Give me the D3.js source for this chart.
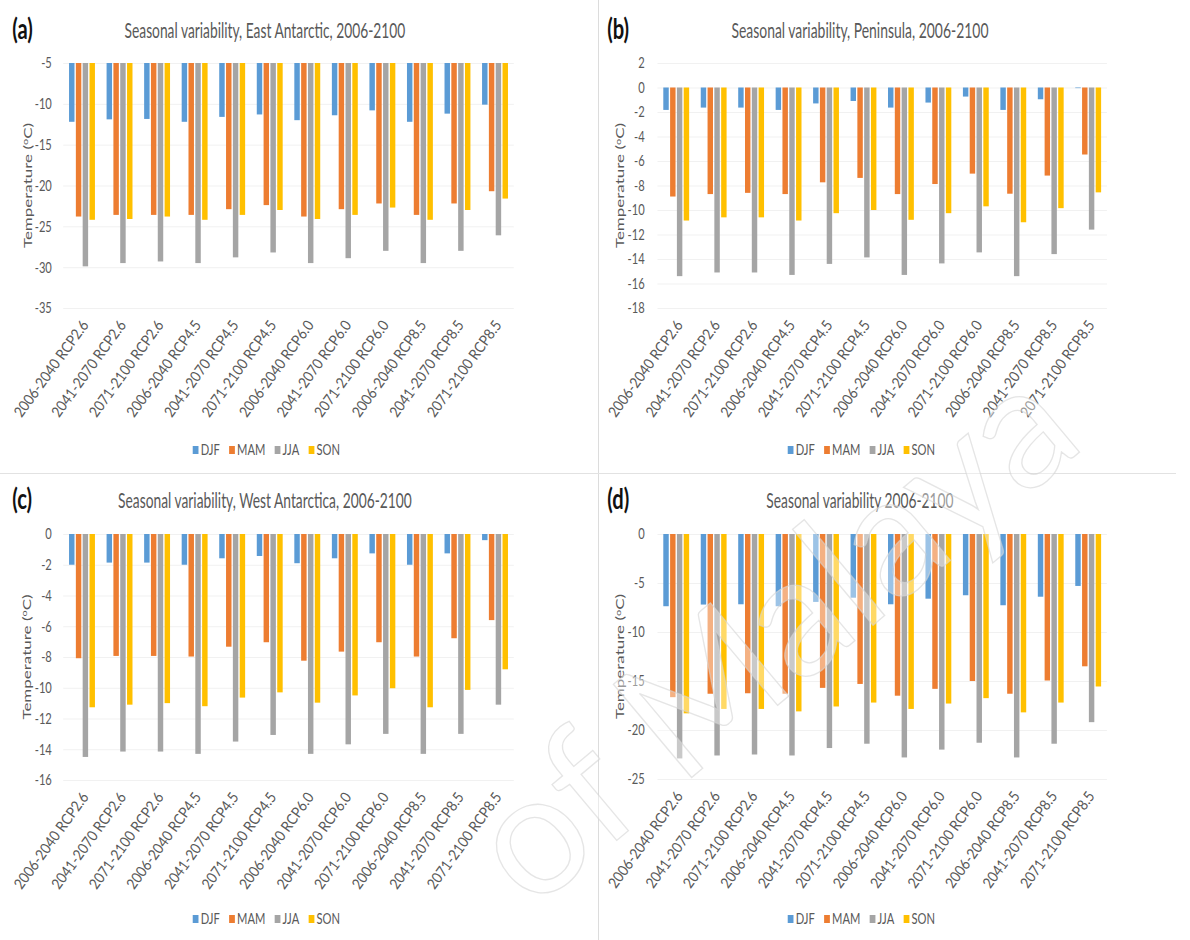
<!DOCTYPE html>
<html>
<head>
<meta charset="utf-8">
<script src="https://cdn.jsdelivr.net/npm/d3@7"></script>
<style>
  body { margin: 0; background: #fff; }
  svg { display: block; }
  text { font-family: Lato, "Open Sans", "DejaVu Sans", sans-serif; }
</style>
</head>
<body>
<svg id="fig" width="1190" height="940"></svg>
<script>
// ---- categories, series and tick labels ----
const categories = [
  "2006-2040 RCP2.6", "2041-2070 RCP2.6", "2071-2100 RCP2.6",
  "2006-2040 RCP4.5", "2041-2070 RCP4.5", "2071-2100 RCP4.5",
  "2006-2040 RCP6.0", "2041-2070 RCP6.0", "2071-2100 RCP6.0",
  "2006-2040 RCP8.5", "2041-2070 RCP8.5", "2071-2100 RCP8.5"
];
const seasons = ["DJF", "MAM", "JJA", "SON"];
const seasonColors = ["#5B9BD5", "#ED7D31", "#A5A5A5", "#FFC000"];

// (a) East Antarctic
const eastDJF = [-12.2, -11.9, -11.85, -12.2, -11.6, -11.3, -12.0, -11.4, -10.8, -12.2, -11.2, -10.1];
const eastMAM = [-23.8, -23.6, -23.6, -23.6, -22.9, -22.4, -23.8, -22.9, -22.2, -23.6, -22.2, -20.7];
const eastJJA = [-29.9, -29.5, -29.3, -29.5, -28.8, -28.2, -29.5, -28.9, -28.0, -29.5, -28.0, -26.1];
const eastSON = [-24.2, -24.1, -23.8, -24.2, -23.6, -23.0, -24.1, -23.6, -22.7, -24.2, -23.0, -21.6];
const eastTicks = [-5, -10, -15, -20, -25, -30, -35];

// (b) Peninsula
const penDJF = [-1.83, -1.64, -1.64, -1.83, -1.3, -1.1, -1.64, -1.23, -0.74, -1.83, -0.96, -0.05];
const penMAM = [-8.9, -8.7, -8.6, -8.7, -7.74, -7.38, -8.7, -7.88, -7.03, -8.67, -7.19, -5.47];
const penJJA = [-15.4, -15.1, -15.1, -15.3, -14.4, -13.87, -15.3, -14.36, -13.46, -15.4, -13.6, -11.6];
const penSON = [-10.86, -10.6, -10.6, -10.86, -10.26, -10.0, -10.8, -10.26, -9.7, -11.0, -9.85, -8.56];
const penTicks = [2, 0, -2, -4, -6, -8, -10, -12, -14, -16, -18];

// (c) West Antarctica
const westDJF = [-2.0, -1.86, -1.86, -2.0, -1.58, -1.43, -1.9, -1.58, -1.26, -2.0, -1.26, -0.4];
const westMAM = [-8.08, -7.93, -7.93, -7.97, -7.33, -7.04, -8.24, -7.65, -7.04, -7.97, -6.78, -5.6];
const westJJA = [-14.5, -14.15, -14.15, -14.3, -13.5, -13.07, -14.3, -13.68, -13.0, -14.3, -13.0, -11.1];
const westSON = [-11.27, -11.1, -11.0, -11.2, -10.64, -10.3, -10.97, -10.5, -10.03, -11.27, -10.14, -8.8];
const westTicks = [0, -2, -4, -6, -8, -10, -12, -14, -16];

// (d) whole continent
const allDJF = [-7.37, -7.2, -7.17, -7.37, -6.93, -6.5, -7.17, -6.6, -6.25, -7.27, -6.4, -5.3];
const allMAM = [-16.65, -16.3, -16.25, -16.3, -15.7, -15.3, -16.5, -15.8, -15.0, -16.3, -14.95, -13.5];
const allJJA = [-22.9, -22.6, -22.5, -22.6, -21.84, -21.4, -22.8, -22.0, -21.3, -22.8, -21.4, -19.2];
const allSON = [-18.3, -17.85, -17.85, -18.1, -17.6, -17.2, -17.85, -17.3, -16.75, -18.2, -17.2, -15.56];
const allTicks = [0, -5, -10, -15, -20, -25];

// ---- layout ----
const SX = 0.72;            // horizontal compression of each chart panel
const TEXT = "#595959";
const FONT = "Lato, 'Open Sans', sans-serif";

const panels = [
  { tag: "(a)", title: "Seasonal variability, East Antarctic, 2006-2100", titleW: 390,
    ox: 0, oy: 0, xr: [87.8, 713.6], yr: [308, 63], tickX: 72, atx: 39,
    series: [eastDJF, eastMAM, eastJJA, eastSON], ticks: eastTicks, legendY: 450 },
  { tag: "(b)", title: "Seasonal variability, Peninsula, 2006-2100", titleW: 357,
    ox: 595, oy: 0, xr: [86.8, 711], yr: [308, 63], tickX: 69, atx: 35,
    series: [penDJF, penMAM, penJJA, penSON], ticks: penTicks, legendY: 450 },
  { tag: "(c)", title: "Seasonal variability, West Antarctica, 2006-2100", titleW: 408,
    ox: 0, oy: 470, xr: [87.8, 713.6], yr: [310, 64], tickX: 72, atx: 37.5,
    series: [westDJF, westMAM, westJJA, westSON], ticks: westTicks, legendY: 449 },
  { tag: "(d)", title: "Seasonal variability 2006-2100", titleW: 260,
    ox: 595, oy: 470, xr: [86.8, 711], yr: [309, 64], tickX: 69, atx: 35,
    series: [allDJF, allMAM, allJJA, allSON], ticks: allTicks, legendY: 449 }
];

const svg = d3.select("#fig");
const color = d3.scaleOrdinal().domain(seasons).range(seasonColors);

// panel separators
svg.append("line").attr("x1", 598.5).attr("x2", 598.5).attr("y1", 0).attr("y2", 940)
  .attr("stroke", "#dcdcdc").attr("stroke-width", 1);
svg.append("line").attr("x1", 0).attr("x2", 1176).attr("y1", 473.5).attr("y2", 473.5)
  .attr("stroke", "#e2e2e2").attr("stroke-width", 1);

panels.forEach(p => {
  const g = svg.append("g")
    .attr("transform", `translate(${p.ox},${p.oy}) scale(${SX},1)`);

  const x0 = d3.scaleBand().domain(categories).range(p.xr)
    .paddingInner(0.31).paddingOuter(0.155);
  const x1 = d3.scaleBand().domain(seasons).range([0, x0.bandwidth()]).paddingInner(0.2);
  const y = d3.scaleLinear().domain(d3.extent(p.ticks)).range(p.yr);
  const base = Math.min(0, y.domain()[1]);

  // gridlines
  g.append("g").selectAll("line").data(p.ticks).join("line")
    .attr("x1", p.xr[0]).attr("x2", p.xr[1])
    .attr("y1", d => y(d) + 0.5).attr("y2", d => y(d) + 0.5)
    .attr("stroke", "#efefef").attr("stroke-width", 1);

  // value axis
  const gy = g.append("g").attr("transform", `translate(${p.tickX},0)`)
    .call(d3.axisLeft(y).tickValues(p.ticks).tickFormat(d => String(d)).tickSize(0).tickPadding(0));
  gy.select(".domain").remove();
  gy.selectAll("text").attr("fill", TEXT).attr("font-size", 15.5)
    .style("font-family", FONT);

  // bars
  const rows = categories.map((c, i) => ({ c, vals: seasons.map((s, j) => ({ s, v: p.series[j][i] })) }));
  g.append("g").selectAll("g").data(rows).join("g")
    .attr("transform", d => `translate(${x0(d.c)},0)`)
    .selectAll("rect").data(d => d.vals).join("rect")
      .attr("x", d => x1(d.s))
      .attr("width", x1.bandwidth())
      .attr("y", y(base))
      .attr("height", d => y(d.v) - y(base))
      .attr("fill", d => color(d.s));

  // category axis: laid out in page space so the slanted labels stay upright
  const xPage = x0.copy().range(p.xr.map(v => v * SX));
  const gx = svg.append("g").attr("transform", `translate(${p.ox + 3},${p.oy + p.yr[0] + 14})`)
    .call(d3.axisBottom(xPage).tickSize(0).tickPadding(0));
  gx.select(".domain").remove();
  gx.selectAll("text")
    .attr("y", 0).attr("x", 0).attr("dy", "0.35em")
    .attr("text-anchor", "end")
    .attr("transform", "rotate(-54) scale(0.9,1)")
    .attr("fill", TEXT).attr("font-size", 15)
    .style("font-family", FONT);

  // axis title
  const cy = (p.yr[0] + p.yr[1]) / 2;
  const at = g.append("text")
    .attr("transform", `translate(${p.atx},${cy}) rotate(-90)`)
    .attr("text-anchor", "middle").attr("dy", "0.35em")
    .attr("fill", TEXT).attr("font-size", 17);
  at.append("tspan").text("Temperature (");
  at.append("tspan").text("o").attr("font-size", 11).attr("dy", "-0.5em");
  at.append("tspan").text("C)").attr("dy", "0.32em");

  // chart title
  g.append("text")
    .attr("x", 368).attr("y", 38)
    .attr("text-anchor", "middle")
    .attr("textLength", p.titleW).attr("lengthAdjust", "spacingAndGlyphs")
    .attr("fill", TEXT).attr("font-size", 20.5)
    .text(p.title);

  // panel tag
  g.append("text")
    .attr("x", 17).attr("y", 39)
    .attr("fill", "#111").attr("font-size", 28).attr("font-weight", 700)
    .text(p.tag);

  // legend
  const lg = g.append("g");
  let cx = 0;
  seasons.forEach((s, i) => {
    const item = lg.append("g").attr("transform", `translate(${cx},0)`);
    item.append("rect").attr("x", 0).attr("y", -4).attr("width", 8).attr("height", 8)
      .attr("fill", color(s));
    const t = item.append("text").attr("x", 11).attr("dy", "0.35em")
      .attr("fill", TEXT).attr("font-size", 15.5).text(s);
    cx += 11 + t.node().getComputedTextLength() + 13;
  });
  const lw = cx - 13;
  lg.attr("transform", `translate(${370 - lw / 2},${p.legendY})`);
});

// watermark
svg.append("text")
  .attr("transform", "translate(1088,445) rotate(-40)")
  .attr("text-anchor", "end")
  .attr("font-size", 170)
  .attr("fill", "#ffffff").attr("fill-opacity", 0.4)
  .attr("stroke", "#d4d4d4").attr("stroke-opacity", 0.6).attr("stroke-width", 1.3)
  .text("of Malaya");
</script>
</body>
</html>
